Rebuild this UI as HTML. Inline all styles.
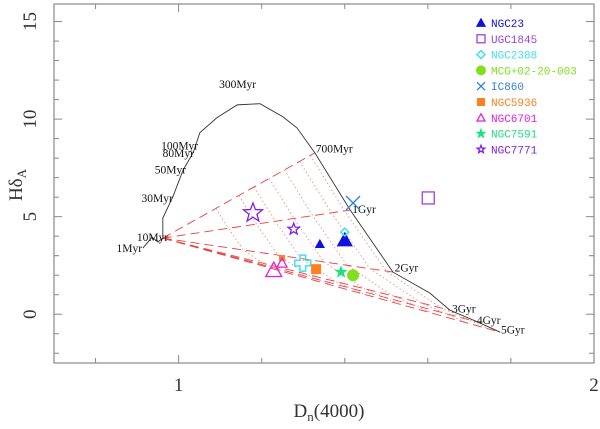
<!DOCTYPE html>
<html><head><meta charset="utf-8"><style>
body{margin:0;background:#fff}
svg{display:block}
text{font-family:"Liberation Serif",serif}
text.mono{font-family:"Liberation Mono",monospace}
</style></head><body>
<svg id="c" width="600" height="429" viewBox="0 0 600 429"></svg>
<script>
const curveX=[0.914,0.936,0.950,0.962,0.962,0.986,1.011,1.035,1.051,1.092,1.141,1.196,1.251,1.285,1.328,1.413,1.516,1.605,1.653,1.721,1.774];
const curveY=[3.39,3.95,3.70,3.90,4.93,6.01,7.40,8.27,9.30,10.07,10.73,10.79,10.12,9.55,8.27,5.34,2.16,1.08,0.21,-0.41,-0.92];
const ageLabels=["1Myr","10Myr","30Myr","50Myr","80Myr","100Myr","300Myr","700Myr","1Gyr","2Gyr","3Gyr","4Gyr","5Gyr"];
const ageX=[0.912,0.975,0.986,1.018,1.037,1.047,1.142,1.33,1.418,1.52,1.658,1.718,1.776];
const ageY=[3.18,3.75,5.75,7.2,8.05,8.45,11.6,8.3,5.2,2.2,0.1,-0.5,-1.0];
const originX=0.962, originY=3.90;
const fanX=[1.328,1.413,1.516,1.653,1.721,1.774];
const fanY=[8.27,5.34,2.16,0.21,-0.41,-0.92];
const ptName=["NGC23","NGC23","UGC1845","NGC2388","NGC2388","MCG+02-20-003","IC860","NGC5936","NGC5936","NGC6701","NGC6701","NGC7591","NGC7771","NGC7771"];
const ptX=[1.340,1.400,1.601,1.400,1.299,1.420,1.420,1.331,1.249,1.229,1.249,1.391,1.179,1.277];
const ptY=[3.59,3.80,5.96,4.21,2.62,2.00,5.70,2.31,2.88,2.26,2.62,2.16,5.19,4.36];
const ptSym=["tri","tri","sq","dia","cross","circ","x","sqf","sqf","tri_o","tri_o","starf","star","star"];
const ptSize=[4,7,6,4,8,6,7,5,3,8,5,5,10,6];
const legNames=["NGC23","UGC1845","NGC2388","MCG+02-20-003","IC860","NGC5936","NGC6701","NGC7591","NGC7771"];
const legCol=["#1010e0","#a040e0","#40e0f0","#80e020","#3080e0","#ff8020","#e020e0","#20e080","#8020e0"];
const legSym=["tri","sq","dia","circ","x","sqf","tri_o","starf","star"];
const colOf={"NGC23":0,"UGC1845":1,"NGC2388":2,"MCG+02-20-003":3,"IC860":4,"NGC5936":5,"NGC6701":6,"NGC7591":7,"NGC7771":8};
const xTicks=[1,2], yTicks=[0,5,10,15];

const L=54,R=594,T=4,B=363, xmin=0.7,xmax=2.0, ymin=-2.5,ymax=15.9;
const sx=v=>L+(v-xmin)/(xmax-xmin)*(R-L);
const sy=v=>B-(v-ymin)/(ymax-ymin)*(B-T);
const svg=document.getElementById('c');
const NS="http://www.w3.org/2000/svg";
function mk(t,a,p){const e=document.createElementNS(NS,t);for(const k in a)e.setAttribute(k,a[k]);(p||svg).appendChild(e);return e;}

const fr=mk('rect',{x:L,y:T,width:R-L,height:B-T,fill:'none',stroke:'#888','stroke-width':1.2});


for(let v=0.8;v<2;v+=0.2){const x=sx(v);mk('line',{x1:x,x2:x,y1:B,y2:B-(Math.abs(v-1)<0.01?8:5),stroke:'#888'});mk('line',{x1:x,x2:x,y1:T,y2:T+(Math.abs(v-1)<0.01?8:5),stroke:'#888'});}
for(let v=-2;v<=15;v++){const y=sy(v);const len=v%5==0?8:5;mk('line',{x1:L,x2:L+len,y1:y,y2:y,stroke:'#888'});mk('line',{x1:R,x2:R-len,y1:y,y2:y,stroke:'#888'});}
xTicks.forEach(v=>{const t=mk('text',{x:sx(v),y:391,'font-size':19,'text-anchor':'middle',fill:'#333'});t.textContent=v;

});
yTicks.forEach(v=>{const t=mk('text',{x:36,y:sy(v),'font-size':19,'text-anchor':'middle',fill:'#333',transform:`rotate(-90 36 ${sy(v)})`});t.textContent=v;

});
const xt=mk('text',{x:329,y:417,'font-size':19,'text-anchor':'middle',fill:'#333'});
xt.innerHTML='D<tspan font-size="13" dy="4">n</tspan><tspan dy="-4">(4000)</tspan>';


const yt=mk('text',{x:22,y:185,'font-size':19,'text-anchor':'middle',fill:'#333',transform:'rotate(-90 22 185)'});
yt.innerHTML='Hδ<tspan font-size="13" dy="4">A</tspan>';



fanX.forEach((fx,i)=>{const l=mk('line',{x1:sx(originX),y1:sy(originY),x2:sx(fx),y2:sy(fanY[i]),stroke:'#e84040','stroke-width':0.9,'stroke-dasharray':'9,5'});

});
[0.35,0.5,0.6,0.7,0.8,0.9,0.97].forEach(f=>{
 let pts=fanX.map((fx,i)=>[sx(originX)+(sx(fx)-sx(originX))*f, sy(originY)+(sy(fanY[i])-sy(originY))*f]);
 const p=mk('polyline',{points:pts.map(p=>p.join(',')).join(' '),fill:'none',stroke:'#f08080','stroke-width':0.8,'stroke-dasharray':'1.5,2.5'});
 
 });
const cv=mk('polyline',{points:curveX.map((x,i)=>sx(x)+','+sy(curveY[i])).join(' '),fill:'none',stroke:'#333','stroke-width':0.9});


ageLabels.forEach((s,i)=>{const t=mk('text',{x:sx(ageX[i]),y:sy(ageY[i]),'font-size':11.5,fill:'#111','text-anchor':i<6?'end':'start'});t.textContent=s;
if(i==6)t.setAttribute('text-anchor','middle');

});

function sym(type,x,y,s,c){
 const g=mk('g',{});
 if(type=='tri'||type=='tri_o')mk('polygon',{points:`${x},${y-s} ${x-s},${y+s*0.8} ${x+s},${y+s*0.8}`,fill:type=='tri'?c:'none',stroke:c,'stroke-width':1.3},g);
 else if(type=='sq')mk('rect',{x:x-s,y:y-s,width:2*s,height:2*s,fill:'none',stroke:c,'stroke-width':1.3},g);
 else if(type=='sqf')mk('rect',{x:x-s,y:y-s,width:2*s,height:2*s,fill:c},g);
 else if(type=='dia')mk('polygon',{points:`${x},${y-s} ${x+s},${y} ${x},${y+s} ${x-s},${y}`,fill:'none',stroke:c,'stroke-width':1.5},g);
 else if(type=='circ')mk('circle',{cx:x,cy:y,r:s,fill:c},g);
 else if(type=='x'){mk('line',{x1:x-s,y1:y-s,x2:x+s,y2:y+s,stroke:c,'stroke-width':1.3},g);mk('line',{x1:x-s,y1:y+s,x2:x+s,y2:y-s,stroke:c,'stroke-width':1.3},g);}
 else if(type=='cross'){const a=s*0.35;mk('polygon',{points:`${x-a},${y-s} ${x+a},${y-s} ${x+a},${y-a} ${x+s},${y-a} ${x+s},${y+a} ${x+a},${y+a} ${x+a},${y+s} ${x-a},${y+s} ${x-a},${y+a} ${x-s},${y+a} ${x-s},${y-a} ${x-a},${y-a}`,fill:'none',stroke:c,'stroke-width':1.5},g);}
 else {let p=[];for(let k=0;k<10;k++){const r=k%2?s*0.42:s;const a=-Math.PI/2+k*Math.PI/5;p.push((x+r*Math.cos(a))+','+(y+r*Math.sin(a)));}
  mk('polygon',{points:p.join(' '),fill:type=='starf'?c:'none',stroke:c,'stroke-width':1.3},g);}
 return g;}
ptX.forEach((v,i)=>{const g=sym(ptSym[i],sx(v),sy(ptY[i]),ptSize[i],legCol[colOf[ptName[i]]]);

});
legNames.forEach((n,i)=>{const y=23+i*15.8;const g=sym(legSym[i],481,y,legSym[i]=='circ'?5:4,legCol[i]);


const t=mk('text',{x:491,y:y+4,'font-size':11,fill:legCol[i],class:'mono'});t.textContent=n;

});
</script>
</body></html>
